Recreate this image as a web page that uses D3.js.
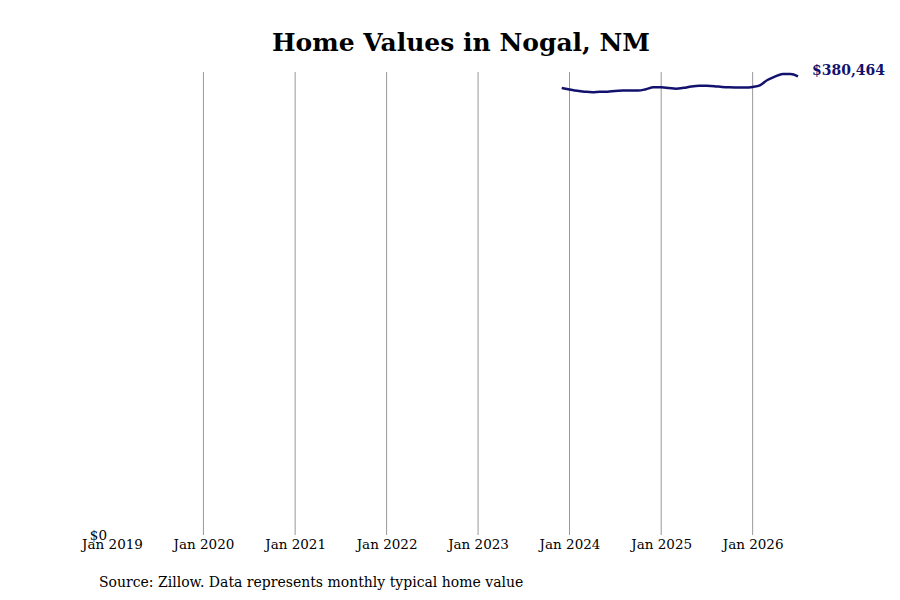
<!DOCTYPE html>
<html>
<head>
<meta charset="utf-8">
<script src="https://cdn.jsdelivr.net/npm/d3@7"></script>
<style>
  body { margin: 0; background: #fff; }
  text { font-family: "DejaVu Serif", serif; }
</style>
</head>
<body>
<div id="chart"></div>
<script>
// monthly typical home value, Dec 2023 .. Jul 2026
const months = [
  "2023-12", "2024-01", "2024-02", "2024-03", "2024-04", "2024-05", "2024-06", "2024-07",
  "2024-08", "2024-09", "2024-10", "2024-11", "2024-12", "2025-01", "2025-02", "2025-03",
  "2025-04", "2025-05", "2025-06", "2025-07", "2025-08", "2025-09", "2025-10", "2025-11",
  "2025-12", "2026-01", "2026-02", "2026-03", "2026-04", "2026-05", "2026-06", "2026-07"
];
const values = [
  370700, 369500, 368400, 367700, 367200, 367600, 367700, 368300,
  368600, 368700, 368600, 369700, 371300, 371300, 370700, 370200,
  370900, 372000, 372600, 372500, 372200, 371600, 371300, 371200,
  371100, 371600, 373200, 377400, 380300, 382400, 382400, 380464
];
const tickYears = [2019, 2020, 2021, 2022, 2023, 2024, 2025, 2026];
const yMax = 384000;

const width = 900;
const height = 600;
const margin = { top: 72, bottom: 65, left: 112, right: 100 };

const parse = d3.timeParse("%Y-%m");
const data = months.map((m, i) => ({ date: parse(m), value: values[i] }));

const svg = d3.select("#chart").append("svg")
    .attr("width", width).attr("height", height);

const x = d3.scaleTime()
    .domain([new Date(2019, 0, 1), new Date(2026, 6, 1)])
    .range([margin.left, 798]);

const y = d3.scaleLinear()
    .domain([0, yMax])
    .range([height - margin.bottom, margin.top]);

// vertical grid lines at each January
svg.append("g")
  .selectAll("line")
  .data(tickYears.slice(1))
  .enter().append("line")
    .attr("x1", d => x(new Date(d, 0, 1)))
    .attr("x2", d => x(new Date(d, 0, 1)))
    .attr("y1", margin.top)
    .attr("y2", height - margin.bottom)
    .attr("stroke", "#999")
    .attr("stroke-width", 1);

// x axis labels
const xAxis = d3.axisBottom(x)
    .tickValues(tickYears.map(d => new Date(d, 0, 1)))
    .tickFormat(d3.timeFormat("Jan %Y"))
    .tickSize(0)
    .tickPadding(4);

svg.append("g")
    .attr("transform", `translate(0,${height - margin.bottom})`)
    .call(xAxis)
    .call(g => g.select(".domain").remove())
    .call(g => g.selectAll("text")
        .attr("fill", "#000")
        .style("font-family", "DejaVu Serif, serif")
        .style("font-size", "13.5px"));

// $0 label
svg.append("text")
    .attr("x", margin.left - 5)
    .attr("y", y(0) + 5)
    .attr("text-anchor", "end")
    .style("font-size", "13.5px")
    .text("$0");

// line
const line = d3.line()
    .x(d => x(d.date))
    .y(d => y(d.value))
    .curve(d3.curveMonotoneX);

svg.append("path")
    .datum(data)
    .attr("fill", "none")
    .attr("stroke", "#12126e")
    .attr("stroke-width", 2.5)
    .attr("d", line);

// end label
const last = data[data.length - 1];
svg.append("text")
    .attr("x", x(last.date) + 14)
    .attr("y", y(last.value) - 1)
    .attr("fill", "#12126e")
    .style("font-size", "14px")
    .style("font-weight", "bold")
    .text(d3.format("$,")(last.value));

// title
svg.append("text")
    .attr("x", 461)
    .attr("y", 51)
    .attr("text-anchor", "middle")
    .style("font-size", "25px")
    .style("font-weight", "bold")
    .text("Home Values in Nogal, NM");

// source
svg.append("text")
    .attr("x", 99)
    .attr("y", 587)
    .style("font-size", "14px")
    .text("Source: Zillow. Data represents monthly typical home value");
</script>
</body>
</html>
